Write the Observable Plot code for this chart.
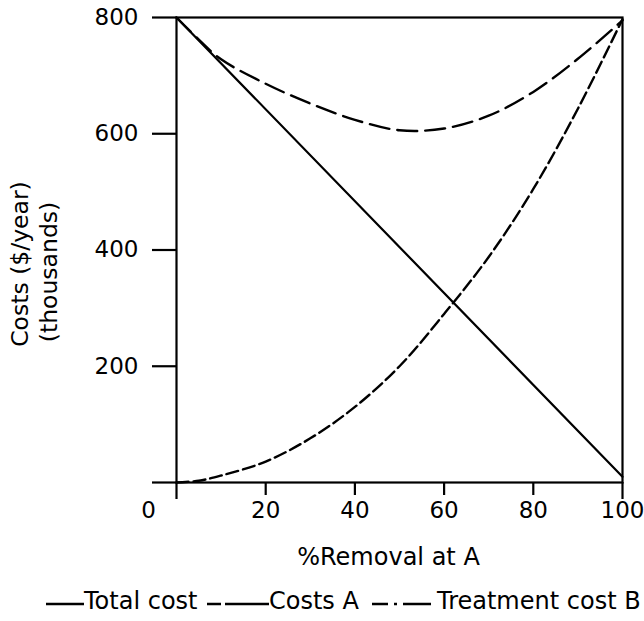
<!DOCTYPE html>
<html>
<head>
<meta charset="utf-8">
<script src="https://cdn.jsdelivr.net/npm/d3@7"></script>
<script src="https://cdn.jsdelivr.net/npm/@observablehq/plot@0.6"></script>
<style>
  body { margin: 0; background: #fff; font-family: "DejaVu Sans", sans-serif; }
  #legend { position: relative; width: 644px; height: 41px; color: #000; }
  #legend .item { position: absolute; top: 0; height: 41px; display: flex; align-items: center; font-size: 24px; white-space: nowrap; }
  #legend svg { display: block; }
</style>
</head>
<body>
<div id="chart"></div>
<div id="legend"></div>
<script>
// ---- data ----
const removal = [0, 5, 10, 20, 30, 40, 50, 60, 70, 80, 90, 100];
const totalCostX = [0, 100];
const totalCost = [800, 10];
const costsA = [800, 762, 728, 686, 652, 624, 606, 609, 631, 672, 729, 795];
const treatmentB = [0, 3, 12, 36, 76, 130, 200, 290, 388, 505, 643, 797];

const xTicks = [0, 20, 40, 60, 80, 100];
const yTicks = [0, 200, 400, 600, 800];
const seriesNames = ["Total cost", "Costs A", "Treatment cost B"];
const xLabel = "%Removal at A";
const yLabel1 = "Costs ($/year)";
const yLabel2 = "(thousands)";

const dashA = "20,8";
const dashB = "12,5";

const chart = Plot.plot({
  width: 644,
  height: 580,
  marginLeft: 176,
  marginRight: 22,
  marginTop: 17,
  marginBottom: 98,
  style: { fontFamily: "DejaVu Sans", color: "#000", background: "#fff", overflow: "visible" },
  x: { domain: [0, 100] },
  y: { domain: [0, 800] },
  marks: [
    Plot.frame({ stroke: "#000", strokeWidth: 2.2 }),
    // y axis ticks + labels
    Plot.axisY({ ticks: yTicks, tickSize: 24, tickPadding: 14, strokeWidth: 2.2, fontSize: 23,
      tickFormat: d => d === 0 ? "" : String(d), label: null }),
    // x axis ticks
    Plot.axisX({ ticks: xTicks.slice(1, -1), tickSize: 13, tickFormat: () => "", label: null, strokeWidth: 2.2 }),
    Plot.axisX({ ticks: [xTicks[0], xTicks[xTicks.length - 1]], tickSize: 17, tickFormat: () => "", label: null, strokeWidth: 2.2 }),
    // x tick labels
    Plot.axisX({ ticks: xTicks.slice(1), tickSize: 0, tickPadding: 19, fontSize: 23, label: null }),
    Plot.text([String(xTicks[0])], { x: () => xTicks[0], frameAnchor: "bottom", text: d => d,
      dx: -28, dy: 19, lineAnchor: "top", textAnchor: "middle", fontSize: 23 }),
    // axis titles
    Plot.text([xLabel], { text: d => d, frameAnchor: "bottom", dx: -11, dy: 75, lineAnchor: "middle", textAnchor: "middle", fontSize: 24 }),
    Plot.text([yLabel1], { text: d => d, frameAnchor: "left", dx: -156, dy: 14, rotate: -90, lineAnchor: "middle", textAnchor: "middle", fontSize: 23.5 }),
    Plot.text([yLabel2], { text: d => d, frameAnchor: "left", dx: -127, dy: 22, rotate: -90, lineAnchor: "middle", textAnchor: "middle", fontSize: 23.5 }),
    // series
    Plot.line(totalCost, { x: totalCostX, y: totalCost, stroke: "#000", strokeWidth: 2.2 }),
    Plot.line(costsA, { x: removal, y: costsA, stroke: "#000", strokeWidth: 2.4, strokeDasharray: dashA, curve: "catmull-rom" }),
    Plot.line(treatmentB, { x: removal, y: treatmentB, stroke: "#000", strokeWidth: 2.4, strokeDasharray: dashB, curve: "catmull-rom" })
  ]
});
document.getElementById("chart").appendChild(chart);

// ---- legend ----
const legend = document.getElementById("legend");
const legendItems = [
  { name: seriesNames[0], dash: null, swLeft: 46, swWidth: 38, textLeft: 84 },
  { name: seriesNames[1], dash: "14,4,100", swLeft: 207, swWidth: 62, textLeft: 269 },
  { name: seriesNames[2], dash: "16,6,3,6,40", swLeft: 372, swWidth: 59, textLeft: 437 }
];
legendItems.forEach(it => {
  const sw = document.createElement("div");
  sw.className = "item";
  sw.style.left = it.swLeft + "px";
  sw.innerHTML = `<svg width="${it.swWidth}" height="41"><line x1="0" x2="${it.swWidth}" y1="24" y2="24" stroke="#000" stroke-width="2.4" ${it.dash ? `stroke-dasharray="${it.dash}"` : ""}/></svg>`;
  legend.appendChild(sw);
  const tx = document.createElement("div");
  tx.className = "item";
  tx.style.left = it.textLeft + "px";
  tx.textContent = it.name;
  legend.appendChild(tx);
});
</script>
</body>
</html>
